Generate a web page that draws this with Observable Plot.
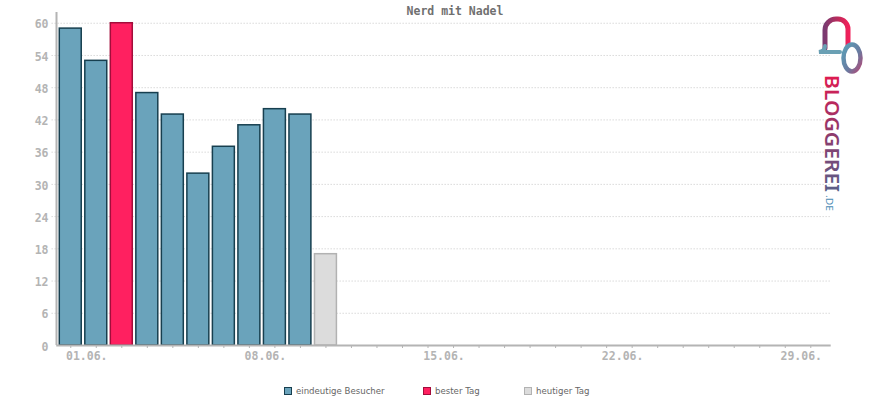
<!DOCTYPE html>
<html>
<head>
<meta charset="utf-8">
<script src="https://cdn.jsdelivr.net/npm/d3@7"></script>
<script src="https://cdn.jsdelivr.net/npm/@observablehq/plot@0.6"></script>
<style>
  body { margin: 0; background: #fff; }
  #wrap { position: relative; width: 870px; height: 400px; overflow: hidden; }
  #chart { position: absolute; left: 0; top: 0; }
  #title {
    position: absolute; top: 4px; left: 355px; width: 200px; text-align: center;
    font: bold 11.5px "DejaVu Sans Mono", monospace; color: #707070;
  }
  #legend { position: absolute; top: 385px; left: 0; width: 870px; height: 14px;
    font: 8.6px "DejaVu Sans", sans-serif; color: #666; }
  .item { position: absolute; top: 0; white-space: nowrap; line-height: 12px; }
  .sw { display: inline-block; width: 6px; height: 6px; border: 1px solid; vertical-align: -1px; margin-right: 4px; }
  #logo { position: absolute; left: 815px; top: 15px; }
</style>
</head>
<body>
<div id="wrap">
  <div id="chart"></div>
  <div id="title">Nerd mit Nadel</div>
  <div id="legend"></div>
  <svg id="logo" width="55" height="205" viewBox="0 0 55 205">
    <defs>
      <linearGradient id="arch" x1="0" y1="0" x2="1" y2="0">
        <stop offset="0" stop-color="#7a3a70"/>
        <stop offset="0.6" stop-color="#c02a5a"/>
        <stop offset="1" stop-color="#f0205a"/>
      </linearGradient>
      <linearGradient id="ring" x1="0" y1="0" x2="1" y2="1">
        <stop offset="0" stop-color="#5aa0b8"/>
        <stop offset="0.6" stop-color="#6a7aa0"/>
        <stop offset="1" stop-color="#b04a78"/>
      </linearGradient>
      <linearGradient id="word" gradientUnits="userSpaceOnUse" x1="0" y1="0" x2="117" y2="0">
        <stop offset="0" stop-color="#e01a50"/>
        <stop offset="0.5" stop-color="#8e3a6c"/>
        <stop offset="1" stop-color="#5a6088"/>
      </linearGradient>
    </defs>
    <path d="M10 33 L10 15 A11 11 0 0 1 21 4 L23 4 A10 10 0 0 1 33 14 L33 30" fill="none" stroke="url(#arch)" stroke-width="5" stroke-linecap="round"/>
    <path d="M10 31 Q10 36 4 37 L25 37" fill="none" stroke="#6aa0b4" stroke-width="4" stroke-linecap="round"/>
    <ellipse cx="37" cy="43" rx="8.5" ry="13.5" fill="none" stroke="url(#ring)" stroke-width="4.5"/>
    <text transform="translate(10,60) rotate(90)" font-family="Noto Sans, sans-serif" font-weight="600" font-size="19.5" fill="url(#word)" textLength="117" lengthAdjust="spacingAndGlyphs">BLOGGEREI</text>
    <text transform="translate(11,180) rotate(90)" font-family="Noto Sans, sans-serif" font-size="9" fill="#4a8cb4" textLength="16" lengthAdjust="spacingAndGlyphs">.DE</text>
  </svg>
</div>
<script>
// Daily unique visitors for June; the last entry is today.
const visitDays = [1, 2, 3, 4, 5, 6, 7, 8, 9, 10, 11];
const visitors  = [59, 53, 60, 47, 43, 32, 37, 41, 44, 43, 17];
const dayKind   = ["visit", "visit", "best", "visit", "visit", "visit", "visit", "visit", "visit", "visit", "today"];

const monthDays  = [1,2,3,4,5,6,7,8,9,10,11,12,13,14,15,16,17,18,19,20,21,22,23,24,25,26,27,28,29,30];
const labelDays  = [1, 8, 15, 22, 29];
const yTicks     = [0, 6, 12, 18, 24, 30, 36, 42, 48, 54, 60];

const kinds = [
  {key: "visit", label: "eindeutige Besucher", fill: "#6aa3bb", stroke: "#173f4f"},
  {key: "best",  label: "bester Tag",          fill: "#ff2060", stroke: "#a30d3b"},
  {key: "today", label: "heutiger Tag",        fill: "#dcdcdc", stroke: "#b2b2b2"}
];
const kindOf = Object.fromEntries(kinds.map(k => [k.key, k]));

const rows = visitDays.map((d, i) => ({day: d, value: visitors[i], kind: dayKind[i]}));

const axisGray = "#b4b4b4";
const mono = "DejaVu Sans Mono, monospace";

const chart = Plot.plot({
  width: 870,
  height: 370,
  marginLeft: 57.5,
  marginRight: 39.3,
  marginTop: 12,
  marginBottom: 25,
  x: {type: "linear", domain: [0.5, 30.8], label: null},
  y: {domain: [0, 62], label: null},
  style: {fontFamily: mono, fontSize: "11.5px", background: "#fff"},
  marks: [
    Plot.ruleY(yTicks.filter(v => v > 0), {x1: 0.27, x2: 30.8, stroke: "#c6c6c6", strokeDasharray: "1,2"}),
    Plot.rectY(rows, {
      x1: d => d.day - 0.43, x2: d => d.day + 0.43, y1: 0, y2: "value",
      fill: d => kindOf[d.kind].fill, stroke: d => kindOf[d.kind].stroke, strokeWidth: 1.5
    }),
    Plot.ruleX([0.5], {y1: 0, y2: 62, dx: -1.5, stroke: axisGray, strokeWidth: 2}),
    Plot.ruleY([0], {x1: 0.45, x2: 30.8, stroke: axisGray, strokeWidth: 2}),
    Plot.axisX({ticks: monthDays, tickSize: 3, tickFormat: () => "", stroke: axisGray, label: null}),
    Plot.axisX({
      ticks: labelDays, tickSize: 0, tickPadding: 6.5, dx: 16, label: null,
      tickFormat: d => String(d).padStart(2, "0") + ".06.",
      fill: axisGray, fontWeight: "bold"
    }),
    Plot.axisY({
      ticks: yTicks, tickSize: 0, tickPadding: 9.5, dy: 1.5, label: null,
      tickFormat: d => String(d), fill: axisGray, fontWeight: "bold"
    })
  ]
});
document.getElementById("chart").appendChild(chart);

// Legend below the plot
const legendPos = {visit: 284, best: 423, today: 524};
const legend = document.getElementById("legend");
for (const k of kinds) {
  const item = document.createElement("div");
  item.className = "item";
  item.style.left = legendPos[k.key] + "px";
  item.innerHTML = `<span class="sw" style="background:${k.fill};border-color:${k.stroke}"></span>${k.label}`;
  legend.appendChild(item);
}
</script>
</body>
</html>
